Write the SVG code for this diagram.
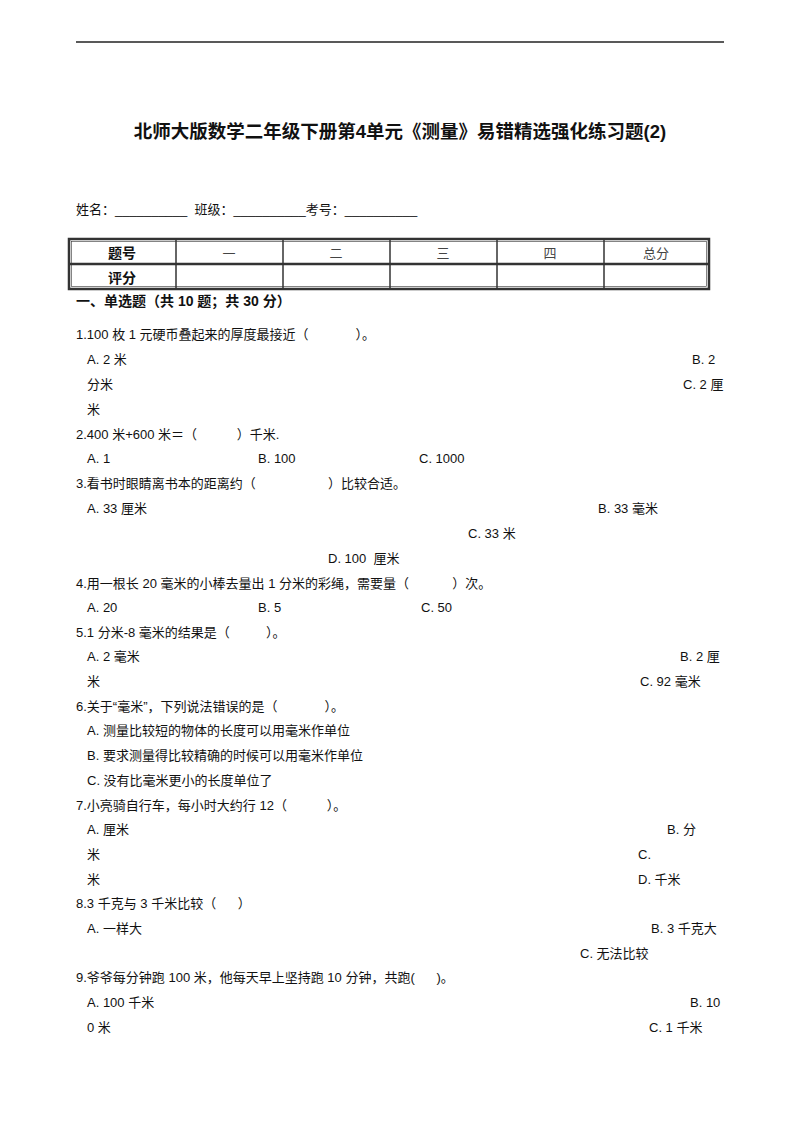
<svg xmlns="http://www.w3.org/2000/svg" width="800" height="1132" viewBox="0 0 800 1132">
<style>
text{font-family:"Liberation Sans","Noto Sans CJK SC",sans-serif;font-size:13px;fill:#111;white-space:pre}
.t{font-size:18.5px;font-weight:bold}
.b{font-weight:bold;font-size:14px}
.g{fill:#444}
.ln{stroke:#333;fill:none}
</style>
<rect width="800" height="1132" fill="#fff"/>
<line x1="76" y1="42" x2="724" y2="42" stroke="#222" stroke-width="1.5"/>
<text class="t" x="400" y="138" text-anchor="middle">北师大版数学二年级下册第4单元《测量》易错精选强化练习题(2)</text>
<text x="76" y="214" font-size="14">姓名：__________  班级：__________考号：__________</text>
<g id="table">
<rect x="69" y="239" width="640" height="50" class="ln" stroke-width="2.5"/>
<rect x="71.5" y="241.5" width="635" height="45" class="ln" stroke-width="0.6"/>
<line x1="69" y1="264" x2="709" y2="264" class="ln" stroke-width="2.5"/>
<g class="ln" stroke-width="1.5">
<line x1="176" y1="239" x2="176" y2="289"/><line x1="283" y1="239" x2="283" y2="289"/>
<line x1="390" y1="239" x2="390" y2="289"/><line x1="497" y1="239" x2="497" y2="289"/>
<line x1="604" y1="239" x2="604" y2="289"/>
</g>
<text class="b" x="122" y="258" text-anchor="middle">题号</text>
<text x="229" y="258" text-anchor="middle" class="g">一</text>
<text x="336" y="258" text-anchor="middle" class="g">二</text>
<text x="443" y="258" text-anchor="middle" class="g">三</text>
<text x="550" y="258" text-anchor="middle" class="g">四</text>
<text x="656" y="258" text-anchor="middle" class="g">总分</text>
<text class="b" x="122" y="283" text-anchor="middle">评分</text>
</g>
<text class="b" x="76" y="306">一、单选题（共 10 题；共 30 分）</text>
<g id="q">
<text x="76" y="339">1.100 枚 1 元硬币叠起来的厚度最接近（             ）。</text>
<text x="87" y="364">A. 2 米</text><text x="692" y="364">B. 2</text>
<text x="87" y="389">分米</text><text x="683" y="389">C. 2 厘</text>
<text x="87" y="414">米</text>
<text x="76" y="439">2.400 米+600 米＝（           ）千米.</text>
<text x="87" y="463">A. 1</text><text x="258" y="463">B. 100</text><text x="419" y="463">C. 1000</text>
<text x="76" y="488">3.看书时眼睛离书本的距离约（                    ）比较合适。</text>
<text x="87" y="513">A. 33 厘米</text><text x="598" y="513">B. 33 毫米</text>
<text x="468" y="538">C. 33 米</text>
<text x="328" y="563">D. 100  厘米</text>
<text x="76" y="588">4.用一根长 20 毫米的小棒去量出 1 分米的彩绳，需要量（            ）次。</text>
<text x="87" y="612">A. 20</text><text x="258" y="612">B. 5</text><text x="421" y="612">C. 50</text>
<text x="76" y="637">5.1 分米-8 毫米的结果是（          ）。</text>
<text x="87" y="661">A. 2 毫米</text><text x="680" y="661">B. 2 厘</text>
<text x="87" y="686">米</text><text x="640" y="686">C. 92 毫米</text>
<text x="76" y="711">6.关于“毫米”，下列说法错误的是（             ）。</text>
<text x="87" y="735">A. 测量比较短的物体的长度可以用毫米作单位</text>
<text x="87" y="760">B. 要求测量得比较精确的时候可以用毫米作单位</text>
<text x="87" y="785">C. 没有比毫米更小的长度单位了</text>
<text x="76" y="810">7.小亮骑自行车，每小时大约行 12（           ）。</text>
<text x="87" y="834">A. 厘米</text><text x="667" y="834">B. 分</text>
<text x="87" y="859">米</text><text x="638" y="859">C.</text>
<text x="87" y="884">米</text><text x="638" y="884">D. 千米</text>
<text x="76" y="908">8.3 千克与 3 千米比较（      ）</text>
<text x="87" y="933">A. 一样大</text><text x="651" y="933">B. 3 千克大</text>
<text x="580" y="958">C. 无法比较</text>
<text x="76" y="982">9.爷爷每分钟跑 100 米，他每天早上坚持跑 10 分钟，共跑(      )。</text>
<text x="87" y="1007">A. 100 千米</text><text x="690" y="1007">B. 10</text>
<text x="87" y="1032">0 米</text><text x="649" y="1032">C. 1 千米</text>
</g>
</svg>
